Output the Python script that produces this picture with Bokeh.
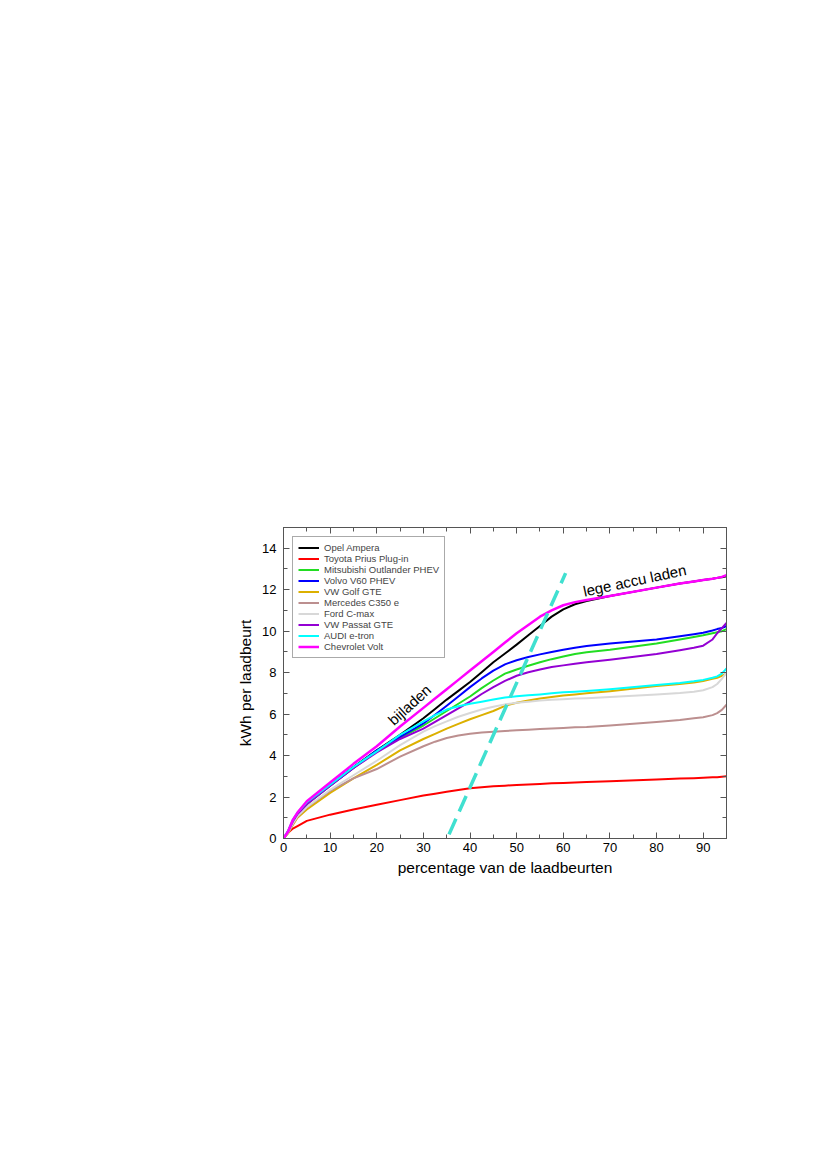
from bokeh.plotting import figure
from bokeh.models import LinearAxis, SingleIntervalTicker, Range1d, Legend, LegendItem, Label
from bokeh.embed import file_html
from bokeh.resources import INLINE

FONT = "Liberation Sans"

x_pct = [0, 1, 2, 3, 5, 10, 15, 20, 25, 30, 32.5, 35, 37.5, 40, 42.5, 45, 47.5, 50, 52.5, 55,
         57.5, 60, 62.5, 65, 70, 80, 85, 88, 90, 92, 93, 94, 95]

opel_ampera = [0, 0.35, 0.85, 1.2, 1.7, 2.6, 3.45, 4.25, 5.0, 5.8, 6.25, 6.7, 7.12, 7.55, 8.02, 8.5, 8.92,
               9.35, 9.8, 10.25, 10.7, 11.05, 11.3, 11.45, 11.7, 12.1, 12.3, 12.4, 12.47, 12.53, 12.57, 12.6, 12.65]
toyota_prius = [0, 0.28, 0.48, 0.6, 0.85, 1.15, 1.4, 1.63, 1.85, 2.07, 2.16, 2.25, 2.34, 2.42, 2.47, 2.52, 2.55,
                2.58, 2.61, 2.63, 2.66, 2.68, 2.7, 2.72, 2.76, 2.85, 2.89, 2.91, 2.93, 2.95, 2.96, 2.98, 3.0]
mitsubishi = [0, 0.33, 0.82, 1.18, 1.65, 2.55, 3.4, 4.2, 4.85, 5.45, 5.8, 6.15, 6.5, 6.85, 7.25, 7.62, 7.95,
              8.15, 8.33, 8.5, 8.65, 8.78, 8.9, 8.98, 9.1, 9.4, 9.6, 9.72, 9.8, 9.9, 9.95, 10.0, 10.1]
volvo_v60 = [0, 0.33, 0.82, 1.18, 1.68, 2.55, 3.4, 4.25, 4.9, 5.55, 5.97, 6.4, 6.85, 7.3, 7.72, 8.1, 8.4,
             8.6, 8.75, 8.88, 9.0, 9.1, 9.2, 9.28, 9.4, 9.6, 9.75, 9.85, 9.92, 10.03, 10.1, 10.15, 10.25]
vw_golf = [0, 0.25, 0.65, 1.0, 1.4, 2.2, 2.9, 3.55, 4.25, 4.8, 5.05, 5.3, 5.53, 5.75, 5.95, 6.15, 6.4,
           6.55, 6.66, 6.75, 6.83, 6.9, 6.95, 7.0, 7.1, 7.35, 7.45, 7.52, 7.6, 7.7, 7.75, 7.85, 7.95]
mercedes = [0, 0.3, 0.7, 1.05, 1.5, 2.3, 2.9, 3.35, 3.95, 4.45, 4.67, 4.85, 4.97, 5.05, 5.11, 5.15, 5.19,
            5.22, 5.25, 5.28, 5.31, 5.33, 5.36, 5.38, 5.45, 5.62, 5.72, 5.8, 5.85, 5.95, 6.05, 6.2, 6.45]
ford_cmax = [0, 0.3, 0.72, 1.08, 1.52, 2.35, 3.05, 3.75, 4.5, 5.15, 5.42, 5.65, 5.87, 6.05, 6.22, 6.35, 6.47,
             6.55, 6.6, 6.65, 6.69, 6.72, 6.75, 6.77, 6.82, 6.95, 7.02, 7.08, 7.15, 7.3, 7.45, 7.7, 8.0]
vw_passat = [0, 0.33, 0.82, 1.18, 1.65, 2.55, 3.4, 4.15, 4.8, 5.3, 5.62, 5.95, 6.28, 6.6, 6.97, 7.3, 7.6,
             7.85, 8.02, 8.15, 8.27, 8.35, 8.43, 8.5, 8.62, 8.9, 9.08, 9.2, 9.3, 9.6, 9.9, 10.15, 10.4]
audi_etron = [0, 0.38, 0.9, 1.25, 1.75, 2.6, 3.45, 4.2, 5.0, 5.65, 5.95, 6.22, 6.38, 6.5, 6.6, 6.7, 6.8,
              6.86, 6.91, 6.95, 7.0, 7.05, 7.08, 7.12, 7.2, 7.4, 7.5, 7.58, 7.65, 7.75, 7.82, 7.95, 8.2]
chevrolet_volt = [0, 0.35, 0.9, 1.25, 1.8, 2.7, 3.6, 4.45, 5.4, 6.3, 6.75, 7.2, 7.65, 8.1, 8.55, 9.0, 9.45,
                  9.9, 10.3, 10.7, 11.0, 11.25, 11.4, 11.5, 11.7, 12.1, 12.3, 12.4, 12.47, 12.53, 12.57, 12.62, 12.7]

series_names = ["Opel Ampera", "Toyota Prius Plug-in", "Mitsubishi Outlander PHEV", "Volvo V60 PHEV",
                "VW Golf GTE", "Mercedes C350 e", "Ford C-max", "VW Passat GTE", "AUDI e-tron", "Chevrolet Volt"]
series_values = [opel_ampera, toyota_prius, mitsubishi, volvo_v60, vw_golf, mercedes, ford_cmax,
                 vw_passat, audi_etron, chevrolet_volt]
series_colors = ["#000000", "#ff0000", "#22dd22", "#0000ff", "#dcb000", "#bc8f8f", "#d8d8d8",
                 "#9400d3", "#00ffff", "#ff00ff"]

divider_x = [35.5, 60.5]
divider_y = [0.2, 12.8]

x_ticks_interval = 10
y_ticks_interval = 2

p = figure(frame_width=443, frame_height=311, x_range=Range1d(0, 95), y_range=Range1d(0, 15),
           output_backend="svg", toolbar_location=None,
           min_border_left=283, min_border_top=527, min_border_right=30, min_border_bottom=60)
p.xgrid.visible = False
p.ygrid.visible = False
p.outline_line_color = "#555555"
p.background_fill_color = "white"
p.border_fill_color = "white"

p.xaxis.ticker = SingleIntervalTicker(interval=x_ticks_interval, num_minor_ticks=2)
p.yaxis.ticker = SingleIntervalTicker(interval=y_ticks_interval, num_minor_ticks=2)

for ax in (p.xaxis[0], p.yaxis[0]):
    ax.major_tick_in = 6
    ax.major_tick_out = 0
    ax.minor_tick_in = 4
    ax.minor_tick_out = 0
    ax.axis_line_color = "#555555"
    ax.major_tick_line_color = "#555555"
    ax.minor_tick_line_color = "#555555"
    ax.major_label_text_font = FONT
    ax.major_label_text_font_size = "13px"
    ax.major_label_text_color = "black"
    ax.axis_label_text_font = FONT
    ax.axis_label_text_font_size = "15.5px"
    ax.axis_label_text_font_style = "normal"
    ax.axis_label_text_color = "black"
    ax.major_label_standoff = 4
    ax.axis_label_standoff = 4
p.yaxis[0].major_label_standoff = 7
p.yaxis[0].axis_label_standoff = 5

p.xaxis.axis_label = "percentage van de laadbeurten"
p.yaxis.axis_label = "kWh per laadbeurt"

top_ax = LinearAxis(ticker=SingleIntervalTicker(interval=x_ticks_interval, num_minor_ticks=2))
right_ax = LinearAxis(ticker=SingleIntervalTicker(interval=y_ticks_interval, num_minor_ticks=2))
for ax in (top_ax, right_ax):
    ax.major_tick_in = 6
    ax.major_tick_out = 0
    ax.minor_tick_in = 4
    ax.minor_tick_out = 0
    ax.axis_line_color = "#555555"
    ax.major_tick_line_color = "#555555"
    ax.minor_tick_line_color = "#555555"
    ax.major_label_text_font_size = "0px"
    ax.major_label_text_alpha = 0
p.add_layout(top_ax, "above")
p.add_layout(right_ax, "right")

items = []
for name, vals, col in zip(series_names, series_values, series_colors):
    lw = 2.5 if name == "Chevrolet Volt" else 2
    r = p.line(x_pct, vals, line_color=col, line_width=lw, line_join="round")
    items.append(LegendItem(label=name, renderers=[r]))

p.line(divider_x, divider_y, line_color="#40e0d0", line_width=3.5, line_dash="17 8")

legend = Legend(items=items, location="top_left")
legend.label_text_font = FONT
legend.label_text_font_size = "9.5px"
legend.glyph_width = 21
legend.glyph_height = 11
legend.label_height = 11
legend.label_standoff = 5
legend.spacing = 0
legend.padding = 5
legend.margin = 9
legend.border_line_color = "#555555"
legend.border_line_width = 1
legend.background_fill_alpha = 1
p.add_layout(legend)

p.add_layout(Label(x=27.0, y=6.45, text="bijladen", angle=0.74, text_align="center", text_baseline="middle",
                   text_font=FONT, text_font_size="15px", text_color="black"))
p.add_layout(Label(x=75.3, y=12.45, text="lege accu laden", angle=0.21, text_align="center", text_baseline="middle",
                   text_font=FONT, text_font_size="15px", text_color="black"))

open("out.html", "w").write(file_html(p, INLINE))
